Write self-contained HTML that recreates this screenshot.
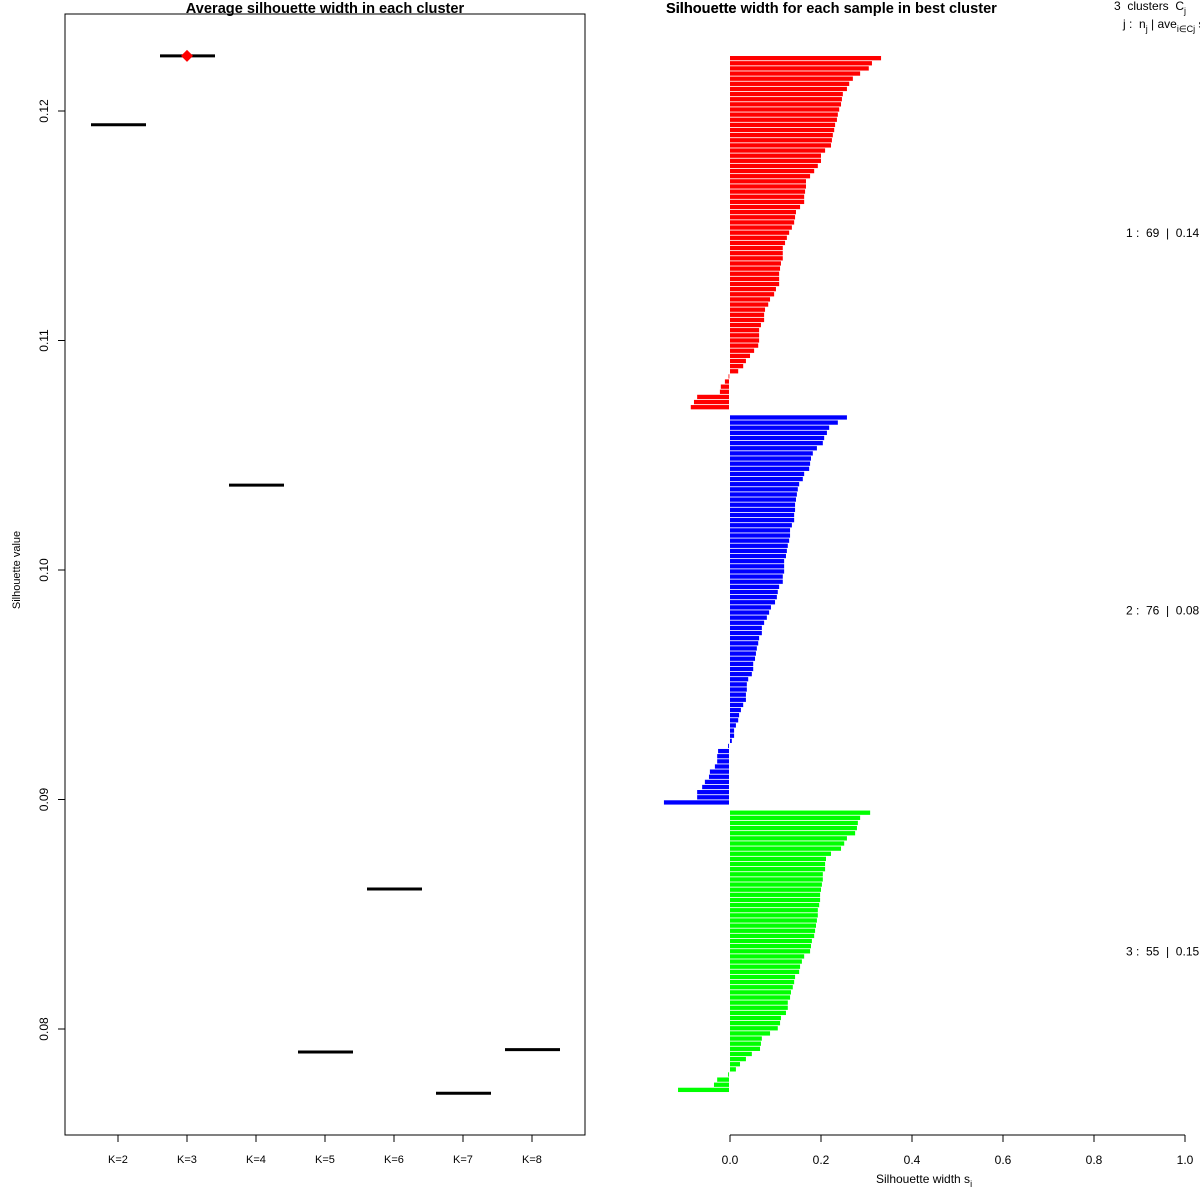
<!DOCTYPE html>
<html><head><meta charset="utf-8"><style>
html,body{margin:0;padding:0;background:#fff}
svg{display:block;font-family:"Liberation Sans",sans-serif}
</style></head><body>
<svg id="c" width="1200" height="1200" viewBox="0 0 1200 1200">
<g id="left"></g>
<g id="right"></g>
</svg>
<script>
const kLabels = ["K=2","K=3","K=4","K=5","K=6","K=7","K=8"];
const avgSil = [0.1194,0.1224,0.1037,0.0790,0.0861,0.0772,0.0791];
const bestK = "K=3";
const yTicks = [0.08,0.09,0.10,0.11,0.12];
const clusterSizes = [69,76,55];
const clusterAvgLabels = ["0.14","0.08","0.15"];
const clusterColors = ["#ff0000","#0000ff","#00ff00"];
const sil1 = [0.332,0.312,0.305,0.286,0.270,0.262,0.257,0.248,0.246,0.244,0.240,0.237,0.235,0.231,0.229,0.226,0.224,0.222,0.209,0.200,0.200,0.193,0.185,0.176,0.167,0.167,0.165,0.163,0.163,0.154,0.145,0.143,0.141,0.136,0.130,0.125,0.121,0.116,0.116,0.116,0.112,0.110,0.108,0.108,0.108,0.101,0.097,0.088,0.084,0.077,0.075,0.075,0.068,0.064,0.064,0.064,0.062,0.053,0.044,0.035,0.029,0.018,-0.001,-0.009,-0.018,-0.020,-0.070,-0.077,-0.084];
const sil2 = [0.257,0.237,0.218,0.213,0.207,0.204,0.191,0.182,0.178,0.176,0.174,0.163,0.160,0.152,0.149,0.147,0.145,0.143,0.143,0.141,0.141,0.136,0.132,0.132,0.130,0.127,0.125,0.123,0.119,0.119,0.119,0.116,0.116,0.108,0.105,0.103,0.099,0.090,0.086,0.081,0.075,0.070,0.070,0.064,0.062,0.059,0.057,0.055,0.051,0.051,0.048,0.040,0.037,0.037,0.035,0.035,0.029,0.024,0.020,0.018,0.013,0.009,0.009,0.004,-0.002,-0.024,-0.026,-0.026,-0.031,-0.042,-0.044,-0.053,-0.059,-0.070,-0.070,-0.143];
const sil3 = [0.308,0.286,0.281,0.279,0.275,0.257,0.251,0.244,0.222,0.211,0.209,0.209,0.204,0.204,0.202,0.200,0.198,0.198,0.196,0.193,0.193,0.191,0.189,0.187,0.185,0.180,0.178,0.176,0.163,0.158,0.154,0.152,0.143,0.141,0.138,0.134,0.132,0.127,0.127,0.123,0.112,0.110,0.105,0.088,0.070,0.068,0.066,0.048,0.035,0.022,0.013,-0.002,-0.026,-0.033,-0.112];
const xTicks = [0,0.2,0.4,0.6,0.8,1.0];
const xTickLabels = ["0.0","0.2","0.4","0.6","0.8","1.0"];

const NS="http://www.w3.org/2000/svg";
const SP="\u00a0";
function mk(parent,tag,attrs,text){const e=document.createElementNS(NS,tag);for(const k in attrs)e.setAttribute(k,attrs[k]);if(text!==undefined)e.textContent=text;parent.appendChild(e);return e;}

// LEFT PANEL
const L=document.getElementById('left');
const yS=v=>570-(v-0.10)*22950;
const xS=i=>118+i*69;
let e=mk(L,'rect',{x:65,y:14,width:520,height:1121,fill:'none',stroke:'#000','stroke-width':1});

e=mk(L,'text',{x:325,y:13,'text-anchor':'middle','font-size':14.6,'font-weight':'bold'},'Average silhouette width in each cluster');

e=mk(L,'text',{x:20,y:570,'text-anchor':'middle','font-size':11,transform:'rotate(-90 20 570)'},'Silhouette value');

yTicks.forEach(t=>{const y=yS(t);
 let l=mk(L,'line',{x1:58,x2:65,y1:y,y2:y,stroke:'#000'});
 
 let tx=mk(L,'text',{x:48,y:y,'text-anchor':'middle','font-size':12,transform:`rotate(-90 48 ${y})`},t.toFixed(2));
 
});
kLabels.forEach((k,i)=>{const x=xS(i);
 let l=mk(L,'line',{x1:x,x2:x,y1:1135,y2:1142,stroke:'#000'});
 
 let tx=mk(L,'text',{x:x,y:1163,'text-anchor':'middle','font-size':11},k);
 
 const y=yS(avgSil[i]);
 let s=mk(L,'line',{x1:x-27,x2:x+28,y1:y,y2:y,stroke:'#000','stroke-width':3});
 
 if(k===bestK){let d=mk(L,'polygon',{points:`${x},${y-6} ${x+6},${y} ${x},${y+6} ${x-6},${y}`,fill:'#ff0000'});
  }
});

// RIGHT PANEL
const R=document.getElementById('right');
const sx=v=>730+v*455;
e=mk(R,'text',{x:666,y:13,'font-size':14.6,'font-weight':'bold'},'Silhouette width for each sample in best cluster');

e=mk(R,'text',{x:666,y:13,'font-size':14.6,'font-weight':'bold'},'Silhouette');

e=mk(R,'line',{x1:730,x2:1185,y1:1135,y2:1135,stroke:'#000'});

xTicks.forEach((t,i)=>{const x=sx(t);
 let l=mk(R,'line',{x1:x,x2:x,y1:1135,y2:1142,stroke:'#000'});
 
 let tx=mk(R,'text',{x:x,y:1164,'text-anchor':'middle','font-size':12},xTickLabels[i]);
 
});
e=mk(R,'text',{x:876,y:1183,'font-size':12},'Silhouette width s');

mk(e,'tspan',{'font-size':9,dy:4},'i');

e=mk(R,'text',{x:1114,y:10,'font-size':12},'3'+SP+SP+'clusters'+SP+SP+'C');

mk(e,'tspan',{'font-size':9,dy:4},'j');
e=mk(R,'text',{x:1123,y:28,'font-size':12},'j :'+SP+SP+'n');

mk(e,'tspan',{'font-size':9,dy:4},'j');
mk(e,'tspan',{dy:-4},SP+'| ave');
mk(e,'tspan',{'font-size':9,dy:4},'i∈Cj');
mk(e,'tspan',{dy:-4},SP+'s');

const allSil=[sil1,sil2,sil3];
const unit=5.133, top0=56, bh=4.3;
let idx=0;
allSil.forEach((arr,c)=>{
 const startIdx=idx;
 arr.forEach((v,j)=>{
  const y=top0+idx*unit;
  const w=Math.max(Math.abs(sx(v)-sx(0)),0.8);
  let b=mk(R,'rect',{x:v>=0?sx(0):sx(v)-1,y:y,width:w,height:bh,fill:clusterColors[c]});
  
  
  idx++;
 });
 const midY=top0+(startIdx+arr.length/2)*unit+4;
 let t=mk(R,'text',{x:1126,y:midY,'font-size':12},(c+1)+' :'+SP+SP+clusterSizes[c]+SP+SP+'|'+SP+SP+clusterAvgLabels[c]);
 
 
 idx++;
});
</script>
</body></html>
